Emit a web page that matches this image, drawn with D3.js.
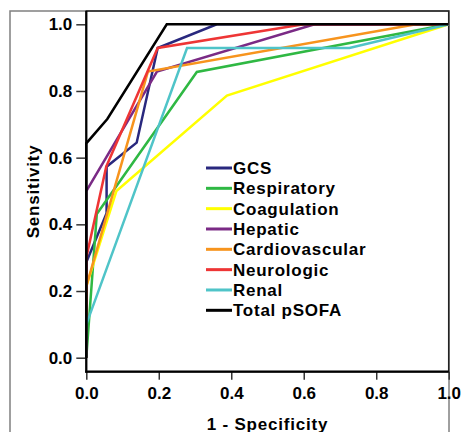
<!DOCTYPE html>
<html>
<head>
<meta charset="utf-8">
<script src="https://cdn.jsdelivr.net/npm/d3@7"></script>
<style>
  body { margin: 0; background: #fff; }
  text { font-family: "Liberation Sans", Arial, sans-serif; font-weight: bold; }
</style>
</head>
<body>
<div id="chart"></div>
<script>
// ROC curves, 1 - specificity (fpr) vs sensitivity (tpr)
var seriesNames = ["GCS", "Respiratory", "Coagulation", "Hepatic", "Cardiovascular", "Neurologic", "Renal", "Total pSOFA"];
var seriesColors = ["#29287e", "#2fb843", "#ffff00", "#7a2a85", "#f7941d", "#ee3535", "#4fc4c8", "#000000"];

var gcsFpr = [0, 0, 0.056, 0.056, 0.139, 0.197, 0.36, 1];
var gcsTpr = [0, 0.286, 0.433, 0.573, 0.645, 0.929, 1, 1];
var respFpr = [0, 0.029, 0.305, 1];
var respTpr = [0, 0.431, 0.857, 1];
var coagFpr = [0, 0, 0.083, 0.388, 1];
var coagTpr = [0, 0.214, 0.5, 0.786, 1];
var hepFpr = [0, 0, 0.195, 0.63, 1];
var hepTpr = [0, 0.5, 0.858, 1, 1];
var cardioFpr = [0, 0, 0.17, 0.91, 1];
var cardioTpr = [0, 0.214, 0.858, 1, 1];
var neuroFpr = [0, 0, 0.055, 0.197, 0.6, 1];
var neuroTpr = [0, 0.3, 0.573, 0.929, 1, 1];
var renalFpr = [0, 0, 0.278, 0.726, 1];
var renalTpr = [0, 0.1, 0.929, 0.929, 1];
var totalFpr = [0, 0, 0.058, 0.222, 1];
var totalTpr = [0, 0.643, 0.716, 1, 1];

var xTicks = [0, 0.2, 0.4, 0.6, 0.8, 1.0];
var yTicks = [0, 0.2, 0.4, 0.6, 0.8, 1.0];

var fprs = [gcsFpr, respFpr, coagFpr, hepFpr, cardioFpr, neuroFpr, renalFpr, totalFpr];
var tprs = [gcsTpr, respTpr, coagTpr, hepTpr, cardioTpr, neuroTpr, renalTpr, totalTpr];

var series = seriesNames.map(function (name, i) {
    return {
        name: name,
        color: seriesColors[i],
        points: fprs[i].map(function (f, j) { return [f, tprs[i][j]]; })
    };
});

var width = 461, height = 432;
var box = { left: 86.3, right: 448.7, top: 11, bottom: 371.7 };

var x = d3.scaleLinear().domain([0, 1]).range([86.3, 448.7]);
var y = d3.scaleLinear().domain([0, 1]).range([357.7, 24.3]);

var svg = d3.select("#chart").append("svg")
    .attr("width", width)
    .attr("height", height);

// outer frame
svg.append("rect")
    .attr("x", 10).attr("y", 11)
    .attr("width", 439).attr("height", 440)
    .attr("fill", "none")
    .attr("stroke", "#808080")
    .attr("stroke-width", 1.5);

// plot frame
svg.append("rect")
    .attr("x", box.left).attr("y", box.top)
    .attr("width", box.right - box.left).attr("height", box.bottom - box.top)
    .attr("fill", "none")
    .attr("stroke", "#222")
    .attr("stroke-width", 1.5);

var line = d3.line()
    .x(function (d) { return x(d[0]); })
    .y(function (d) { return y(d[1]); });

svg.append("g").selectAll("path")
    .data(series)
    .enter().append("path")
    .attr("d", function (d) { return line(d.points); })
    .attr("fill", "none")
    .attr("stroke", function (d) { return d.color; })
    .attr("stroke-width", 2.5);

// axes
var yAxis = d3.axisLeft(y)
    .tickValues(yTicks)
    .tickFormat(d3.format(".1f"))
    .tickSize(10)
    .tickPadding(4);

var xAxis = d3.axisBottom(x)
    .tickValues(xTicks)
    .tickFormat(d3.format(".1f"))
    .tickSize(8)
    .tickPadding(7);

var gy = svg.append("g")
    .attr("transform", "translate(" + box.left + ",0)")
    .call(yAxis);
var gx = svg.append("g")
    .attr("transform", "translate(0," + box.bottom + ")")
    .call(xAxis);

[gx, gy].forEach(function (g) {
    g.select(".domain").remove();
    g.selectAll(".tick line").attr("stroke", "#333").attr("stroke-width", 1.5);
    g.selectAll(".tick text")
        .attr("fill", "#000")
        .style("font-size", "17px")
        .style("font-family", "'Liberation Sans', Arial, sans-serif")
        .style("font-weight", "bold");
});

// axis lines on top
svg.append("line")
    .attr("x1", box.left).attr("x2", box.left)
    .attr("y1", box.top).attr("y2", box.bottom + 1)
    .attr("stroke", "#000").attr("stroke-width", 2.2);
svg.append("line")
    .attr("x1", box.left - 1).attr("x2", box.right)
    .attr("y1", box.bottom).attr("y2", box.bottom)
    .attr("stroke", "#000").attr("stroke-width", 2.2);

// axis titles
svg.append("text")
    .attr("transform", "translate(39," + ((box.top + box.bottom) / 2) + ") rotate(-90)")
    .attr("text-anchor", "middle")
    .style("font-size", "17px")
    .style("letter-spacing", "0.8px")
    .text("Sensitivity");

svg.append("text")
    .attr("x", (box.left + box.right) / 2)
    .attr("y", 430)
    .attr("text-anchor", "middle")
    .style("font-size", "17px")
    .style("letter-spacing", "0.8px")
    .text("1 - Specificity");

// legend
var legend = svg.append("g")
    .attr("transform", "translate(206,168)");

var item = legend.selectAll("g")
    .data(series)
    .enter().append("g")
    .attr("transform", function (d, i) { return "translate(0," + (i * 20.33) + ")"; });

item.append("line")
    .attr("x1", 0).attr("x2", 26)
    .attr("y1", 0).attr("y2", 0)
    .attr("stroke", function (d) { return d.color; })
    .attr("stroke-width", 3);

item.append("text")
    .attr("x", 27)
    .attr("dy", "0.36em")
    .style("font-size", "17px")
    .style("letter-spacing", "0.75px")
    .text(function (d) { return d.name; });
</script>
</body>
</html>
